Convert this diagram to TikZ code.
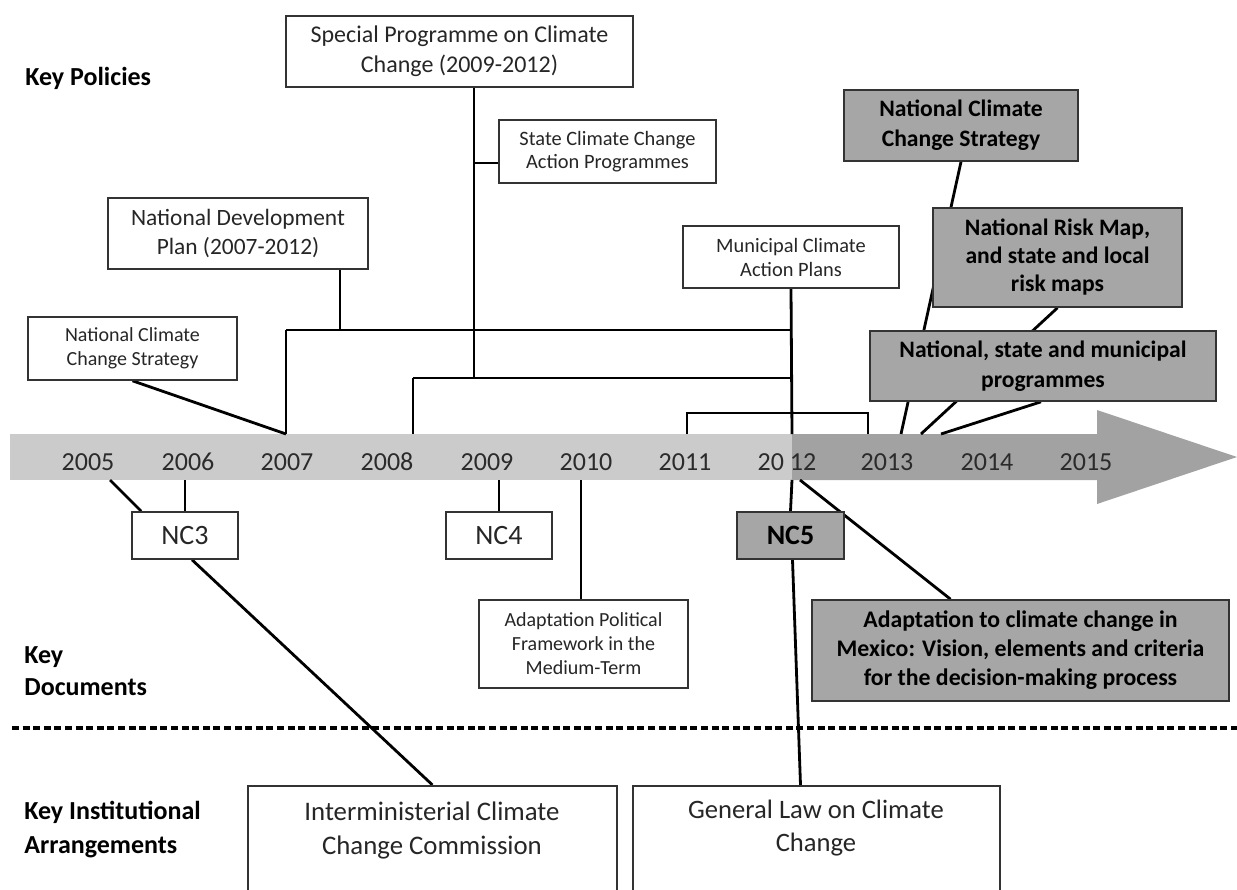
\documentclass[tikz,border=0pt]{standalone}
\usepackage{fontspec}
\setmainfont{Carlito}
\usetikzlibrary{calc}
\pgfdeclarelayer{bg}
\pgfsetlayers{bg,main}
\definecolor{lightband}{HTML}{CBCBCB}
\definecolor{darkband}{HTML}{A2A2A2}
\definecolor{boxgray}{HTML}{A6A6A6}
\definecolor{edge}{HTML}{333333}
\definecolor{yeartext}{HTML}{2B2B2B}
\definecolor{boxtext}{HTML}{262626}
\begin{document}
\begin{tikzpicture}[x=0.5pt, y=-0.5pt,
  wh/.style 2 args={minimum width=#1*0.5pt, minimum height=#2*0.5pt},
  fs/.style 2 args={font=\fontsize{#1}{#2}\selectfont},
  fsb/.style 2 args={font=\fontsize{#1}{#2}\selectfont\bfseries},
  box/.style={draw=edge, line width=0.8pt, fill=white, align=center, inner sep=2pt, text=boxtext},
  gbox/.style={box, fill=boxgray, text=black},
  conn/.style={line width=1.4pt, black},
  year/.style={fs={13}{15}, text=yeartext, inner sep=0pt},
  lbl/.style={anchor=west, inner sep=0pt, align=left}
]
\useasboundingbox (0,0) rectangle (1237,889);
\clip (0,0) rectangle (1237,889);

% ---------- boxes ----------
\node[box, wh={347}{71}, fs={12}{15}] (sp) at (459.5,51.5) {Special Programme on Climate\\Change (2009-2012)};
\node[box, wh={217}{63}, fs={10.2}{11.5}] (state) at (607.5,151.5) {State Climate Change\\Action Programmes};
\node[box, wh={260}{71}, fs={11.7}{14.5}] (ndp) at (238,233.5) {National Development\\Plan (2007-2012)};
\node[box, wh={216}{62}, fs={10.2}{12}] (mun) at (791,257) {Municipal Climate\\Action Plans};
\node[box, wh={209}{63}, fs={10}{12}] (nccsL) at (132.5,348.5) {National Climate\\Change Strategy};
\node[gbox, wh={234}{71}, fsb={11.8}{15}] (nccsR) at (961,125.5) {National Climate\\Change Strategy};
\node[gbox, wh={249}{99}, fsb={11.8}{14}] (risk) at (1057.5,257.5) {National Risk Map,\\and state and local\\risk maps};
\node[gbox, wh={346}{70}, fsb={11.8}{15}] (prog) at (1043,366) {National, state and municipal\\programmes};

\node[box, wh={106}{47}, fs={14}{17}] (nc3) at (185,535.5) {NC3};
\node[box, wh={106}{47}, fs={14}{17}] (nc4) at (499,535.5) {NC4};
\node[gbox, wh={107}{47}, fsb={14}{17}] (nc5) at (790.5,535.5) {NC5};
\node[box, wh={209}{88}, fs={10}{12}] (app) at (583.5,644) {Adaptation Political\\Framework in the\\Medium-Term};
\node[gbox, wh={417}{101}, fsb={11.9}{14.5}] (adapt) at (1020.5,650.5) {Adaptation to climate change in\\Mexico: Vision, elements and criteria\\for the decision-making process};

\node[box, wh={369}{140}, anchor=north] (inter) at (432.5,785) {};
\node[box, wh={367}{140}, anchor=north] (genlaw) at (816.5,785) {};
\node[fs={13.4}{17}, align=center, inner sep=0pt, text=boxtext] (intertext) at (432,830) {Interministerial Climate\\Change Commission};
\node[fs={13.3}{16.5}, align=center, inner sep=0pt, text=boxtext] (genlawtext) at (816,828) {General Law on Climate\\Change};

% ---------- section labels ----------
\node[lbl, fsb={13}{16}] (kp) at (25,78) {Key Policies};
\node[lbl, fsb={13}{16}] (kd) at (24,671) {Key\\Documents};
\node[lbl, fsb={13}{17}] (ki) at (24,830) {Key Institutional\\Arrangements};

% ---------- coordinates ----------
\coordinate (jA) at (286,330);
\coordinate (jB) at (792,330);
\coordinate (jC) at (413,378);
\coordinate (jD) at (792,378);
\coordinate (jS) at (474,163);
\coordinate (jSP) at (474,378);
\coordinate (t07) at (286,434);
\coordinate (t08) at (413,434);
\coordinate (t12a) at (792,434);
\coordinate (t12b) at (792,480);
\coordinate (b11a) at (687,413);
\coordinate (b11b) at (868,413);
\coordinate (t11a) at (687,434);
\coordinate (t11b) at (868,434);
\coordinate (t13a) at (901,434);
\coordinate (t13b) at (921,434);
\coordinate (t13c) at (941,434);
\coordinate (t05) at (110,480);
\coordinate (t06) at (185,480);
\coordinate (t09) at (499,480);
\coordinate (t10) at (581,480);
\coordinate (t12d) at (800,480);
\coordinate (dl) at (12,728);
\coordinate (dr) at (1240,728);

\begin{pgfonlayer}{bg}
  % timeline band
  \fill[lightband] (10,434) rectangle (792,480);
  \fill[darkband] (792,434) -- (1097,434) -- (1097,410) -- (1237,457) -- (1097,504) -- (1097,480) -- (792,480) -- cycle;

  % connectors above the timeline
  \draw[conn] (nccsL.south) -- (t07);
  \draw[conn] ($(ndp.south)+(102,0)$) -- (jA -| {$(ndp.south)+(102,0)$});
  \draw[conn] (jA) -- (jB);
  \draw[conn] (jA) -- (t07);
  \draw[conn] ($(sp.south)+(14.5,0)$) -- (jSP);
  \draw[conn] (jS) -- (state.west |- jS);
  \draw[conn] (jC) -- (jD);
  \draw[conn] (jC) -- (t08);
  \draw[conn] (mun.south) -- (t12a);
  \draw[conn] (t11a) -- (b11a) -- (b11b) -- (t11b);
  \draw[conn] (nccsR.south) -- (t13a);
  \draw[conn] (risk.south) -- (t13b);
  \draw[conn] ($(prog.south)+(-2,0)$) -- (t13c);

  % connectors below the timeline
  \draw[conn] (t05) -- ($(nc3.north west)+(10,0)$);
  \draw[conn] (t06) -- (nc3.north);
  \draw[conn] (t09) -- (nc4.north);
  \draw[conn] (t10) -- (t10 |- app.north);
  \draw[conn] (t12b) -- (nc5.north);
  \draw[conn] (t12d) -- ($(adapt.north)+(-70,0)$);
  \draw[conn] ($(nc5.south)+(2,0)$) -- ($(genlaw.north)+(-16,0)$);
  \draw[conn] ($(nc3.south)+(7,0)$) -- (inter.north);

  % divider
  \draw[line width=1.6pt, dash pattern=on 3.5pt off 1.8pt] (dl) -- (dr);
\end{pgfonlayer}

% ---------- years ----------
\node[year] (y05) at (88,462) {2005};
\node[year] (y06) at (188,462) {2006};
\node[year] (y07) at (287,462) {2007};
\node[year] (y08) at (387,462) {2008};
\node[year] (y09) at (487,462) {2009};
\node[year] (y10) at (586,462) {2010};
\node[year] (y11) at (685,462) {2011};
\node[year] (y12) at (787,462) {20 12};
\node[year] (y13) at (887,462) {2013};
\node[year] (y14) at (987,462) {2014};
\node[year] (y15) at (1086,462) {2015};
\end{tikzpicture}
\end{document}
